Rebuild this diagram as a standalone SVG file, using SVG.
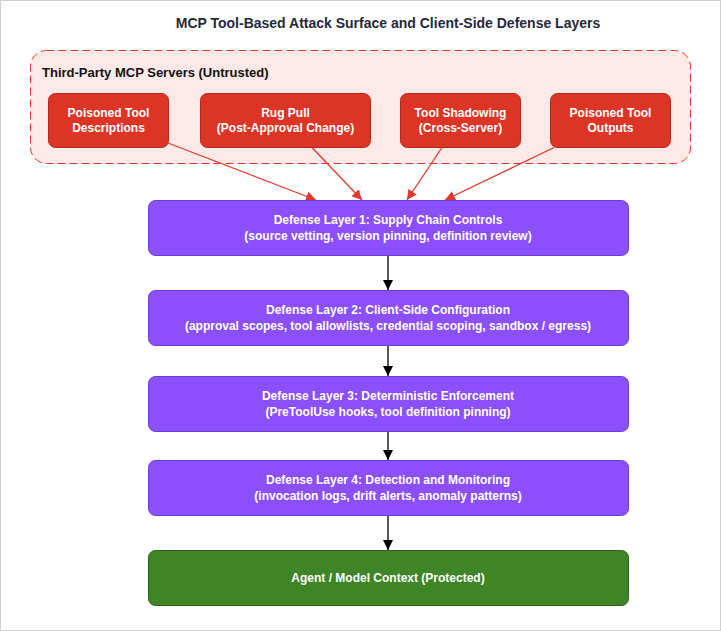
<svg xmlns="http://www.w3.org/2000/svg" width="721" height="631" viewBox="0 0 721 631">
<style>
text{font-family:"Liberation Sans",Arial,Helvetica,sans-serif;font-weight:bold;}
.t{font-size:14px;fill:#1f2a3c;text-anchor:middle;}
.g{font-size:13px;fill:#111;}
.w{font-size:12px;fill:#fff;text-anchor:middle;}
.red{fill:#dc3526;stroke:#b5261b;stroke-width:1;}
.pur{fill:#8b50fb;stroke:#6c3cd6;stroke-width:1;}
.grn{fill:#3f8527;stroke:#2b6317;stroke-width:1;}
.ra{stroke:#e0392b;stroke-width:1.3;fill:none;marker-end:url(#mr);}
.ba{stroke:#000;stroke-width:1.3;fill:none;marker-end:url(#mb);}
</style>
<defs>
<marker id="mr" viewBox="0 0 10 10" refX="10" refY="5" markerWidth="10" markerHeight="10" markerUnits="userSpaceOnUse" orient="auto"><path d="M0,0L10,5L0,10z" fill="#e0392b"/></marker>
<marker id="mb" viewBox="0 0 10 10" refX="10" refY="5" markerWidth="10" markerHeight="10" markerUnits="userSpaceOnUse" orient="auto"><path d="M0,0L10,5L0,10z" fill="#000"/></marker>
</defs>
<rect x="0.5" y="0.5" width="720" height="630" fill="#fff" stroke="#d0d0d0"/>
<text class="t" x="388" y="28">MCP Tool-Based Attack Surface and Client-Side Defense Layers</text>
<g id="untrusted">
<rect x="30.5" y="50.5" width="660" height="113" rx="16" fill="#fde9e7" stroke="#e0392b" stroke-dasharray="8 4"/>
<text class="g" x="42" y="77">Third-Party MCP Servers (Untrusted)</text>
</g>
<g id="poisoned-desc"><rect class="red" x="48.5" y="93.5" width="120" height="54" rx="7"/><text class="w" x="108.5" y="116.5">Poisoned Tool</text><text class="w" x="108.5" y="131.5">Descriptions</text></g>
<g id="rug-pull"><rect class="red" x="200.5" y="93.5" width="170" height="54" rx="7"/><text class="w" x="285.5" y="116.5">Rug Pull</text><text class="w" x="285.5" y="131.5">(Post-Approval Change)</text></g>
<g id="shadowing"><rect class="red" x="400.5" y="93.5" width="120" height="54" rx="7"/><text class="w" x="460.5" y="116.5">Tool Shadowing</text><text class="w" x="460.5" y="131.5">(Cross-Server)</text></g>
<g id="poisoned-out"><rect class="red" x="550.5" y="93.5" width="120" height="54" rx="7"/><text class="w" x="610.5" y="116.5">Poisoned Tool</text><text class="w" x="610.5" y="131.5">Outputs</text></g>
<g id="connectors">
<line class="ra" x1="168" y1="143" x2="316" y2="200"/>
<line class="ra" x1="312" y1="147.5" x2="362" y2="200"/>
<line class="ra" x1="442" y1="147.5" x2="407" y2="200"/>
<line class="ra" x1="554" y1="147.5" x2="445" y2="200"/>
<line class="ba" x1="388" y1="256" x2="388" y2="290"/>
<line class="ba" x1="388" y1="346" x2="388" y2="376"/>
<line class="ba" x1="388" y1="432" x2="388" y2="460"/>
<line class="ba" x1="388" y1="516" x2="388" y2="550"/>
</g>
<g id="layer1"><rect class="pur" x="148.5" y="200.5" width="480" height="55" rx="7"/><text class="w" x="388" y="224">Defense Layer 1: Supply Chain Controls</text><text class="w" x="388" y="240">(source vetting, version pinning, definition review)</text></g>
<g id="layer2"><rect class="pur" x="148.5" y="290.5" width="480" height="55" rx="7"/><text class="w" x="388" y="314">Defense Layer 2: Client-Side Configuration</text><text class="w" x="388" y="330">(approval scopes, tool allowlists, credential scoping, sandbox / egress)</text></g>
<g id="layer3"><rect class="pur" x="148.5" y="376.5" width="480" height="55" rx="7"/><text class="w" x="388" y="400">Defense Layer 3: Deterministic Enforcement</text><text class="w" x="388" y="416">(PreToolUse hooks, tool definition pinning)</text></g>
<g id="layer4"><rect class="pur" x="148.5" y="460.5" width="480" height="55" rx="7"/><text class="w" x="388" y="484">Defense Layer 4: Detection and Monitoring</text><text class="w" x="388" y="500">(invocation logs, drift alerts, anomaly patterns)</text></g>
<g id="agent"><rect class="grn" x="148.5" y="550.5" width="480" height="55" rx="7"/><text class="w" x="388" y="582">Agent / Model Context (Protected)</text></g>
</svg>
